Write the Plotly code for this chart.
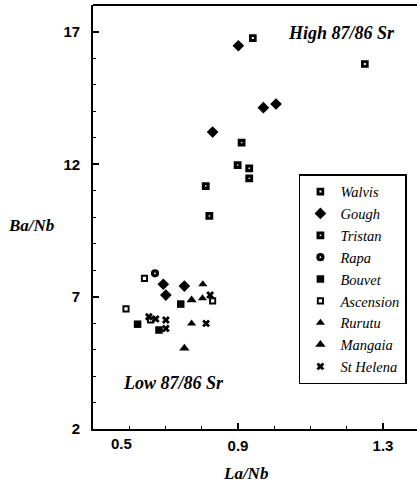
import plotly.graph_objects as go

# ---- data (La/Nb, Ba/Nb) ----
walvis_x = [0.941, 1.250]
walvis_y = [16.77, 15.79]
gough_x = [0.901, 0.970, 1.005, 0.830, 0.694, 0.701, 0.752]
gough_y = [16.48, 14.14, 14.28, 13.22, 7.47, 7.06, 7.40]
tristan_x = [0.910, 0.899, 0.931, 0.931, 0.811, 0.821]
tristan_y = [12.82, 11.97, 11.85, 11.47, 11.18, 10.05]
rapa_x = [0.671]
rapa_y = [7.88]
bouvet_x = [0.742, 0.623, 0.682]
bouvet_y = [6.72, 5.96, 5.74]
ascension_x = [0.642, 0.591, 0.830, 0.659]
ascension_y = [7.69, 6.54, 6.84, 6.12]
rurutu_x = [0.803, 0.802, 0.772]
rurutu_y = [7.47, 6.94, 5.99]
mangaia_x = [0.772, 0.752]
mangaia_y = [6.87, 5.05]
sthelena_x = [0.654, 0.673, 0.701, 0.701, 0.812, 0.823]
sthelena_y = [6.24, 6.16, 6.12, 5.80, 5.99, 7.06]

x_tickvals = [0.5, 0.9, 1.3]
x_ticktext = ["", "0.9", "1.3"]
y_tickvals = [2, 7, 12, 17]
y_ticktext = ["2", "7", "12", "17"]

SERIF = "Liberation Serif"
SANS = "Liberation Sans"

series = [
    ("Walvis", walvis_x, walvis_y, dict(symbol="square", size=4.8, color="white", line=dict(color="black", width=2.8))),
    ("Gough", gough_x, gough_y, dict(symbol="diamond", size=9, color="black", line=dict(color="black", width=0))),
    ("Tristan", tristan_x, tristan_y, dict(symbol="square", size=4.6, color="white", line=dict(color="black", width=3.2))),
    ("Rapa", rapa_x, rapa_y, dict(symbol="circle", size=5, color="white", line=dict(color="black", width=3.2))),
    ("Bouvet", bouvet_x, bouvet_y, dict(symbol="square", size=7.5, color="black", line=dict(color="black", width=0))),
    ("Ascension", ascension_x, ascension_y, dict(symbol="square", size=5.2, color="white", line=dict(color="black", width=1.9))),
    ("Rurutu", rurutu_x, rurutu_y, dict(symbol="triangle-up", size=8, color="black", line=dict(color="black", width=0))),
    ("Mangaia", mangaia_x, mangaia_y, dict(symbol="triangle-up", size=9, color="black", line=dict(color="black", width=0))),
    ("St Helena", sthelena_x, sthelena_y, dict(symbol="x", size=7, color="black", line=dict(color="black", width=0))),
]

fig = go.Figure()
for name, xs, ys, mk in series:
    fig.add_trace(go.Scatter(x=xs, y=ys, mode="markers", name=name, marker=mk))

tickfont = dict(family=SANS, size=15, color="black", weight="bold")

# The reference frame is cropped at its right edge, so the plot area runs
# past the 417 px window and is clipped there.
fig.update_xaxes(
    range=[0.5, 1.4297], tickmode="array", tickvals=x_tickvals, ticktext=x_ticktext,
    ticks="inside", ticklen=6, tickwidth=1.5, tickcolor="black",
    minor=dict(dtick=0.1, tick0=0.5, ticks="inside", ticklen=3, tickwidth=1.2,
               tickcolor="black", showgrid=False),
    showline=True, linecolor="black", linewidth=1.8, mirror=False,
    showgrid=False, zeroline=False, tickfont=tickfont, ticklabelstandoff=2,
)
fig.update_yaxes(
    range=[2, 18.02], tickmode="array", tickvals=y_tickvals, ticktext=y_ticktext,
    ticks="inside", ticklen=6, tickwidth=1.5, tickcolor="black",
    minor=dict(dtick=1, tick0=2, ticks="inside", ticklen=3, tickwidth=1.2,
               tickcolor="black", showgrid=False),
    showline=True, linecolor="black", linewidth=1.8, mirror=False,
    showgrid=False, zeroline=False, tickfont=tickfont, ticklabelstandoff=8,
)

# top frame line of the plot box
fig.add_shape(type="line", xref="paper", yref="paper", x0=0, x1=1, y0=1, y1=1,
              line=dict(color="black", width=1.8))

annotations = [
    dict(text="<b><i>High 87/86 Sr</i></b>", x=1.1855, y=16.96, xref="x", yref="y",
         xanchor="center", yanchor="middle",
         showarrow=False, font=dict(family=SERIF, size=18, color="black")),
    dict(text="<b><i>Low 87/86 Sr</i></b>", x=0.7234, y=3.74, xref="x", yref="y",
         xanchor="center", yanchor="middle",
         showarrow=False, font=dict(family=SERIF, size=18, color="black")),
    dict(text="<b><i>Ba/Nb</i></b>", x=-0.184, y=0.479, xref="paper", yref="paper",
         xanchor="center", yanchor="middle",
         showarrow=False, font=dict(family=SERIF, size=17, color="black")),
    dict(text="<b><i>La/Nb</i></b>", x=0.454, y=-0.104, xref="paper", yref="paper",
         xanchor="center", yanchor="middle",
         showarrow=False, font=dict(family=SERIF, size=17, color="black")),
    dict(text="0.5", x=0.5, y=0, xref="x", yref="paper", xanchor="center", yanchor="top",
         xshift=28, yshift=-4, showarrow=False, font=tickfont),
]

fig.update_layout(
    width=430, height=493,
    margin=dict(l=93, r=0, t=5, b=64),
    plot_bgcolor="white", paper_bgcolor="white",
    annotations=annotations,
    legend=dict(
        x=0.611, y=0.601, xanchor="left", yanchor="top",
        bordercolor="black", borderwidth=1.5, bgcolor="white",
        font=dict(family=SERIF, size=14.5, color="black", style="italic"),
        itemwidth=30, tracegroupgap=0,
    ),
)

fig.write_html(
    "out.html",
    config={"displayModeBar": False},
    post_script=(
        "document.documentElement.style.margin='0';"
        "document.documentElement.style.overflow='hidden';"
        "document.body.style.margin='0';document.body.style.overflow='hidden';"
    ),
)
